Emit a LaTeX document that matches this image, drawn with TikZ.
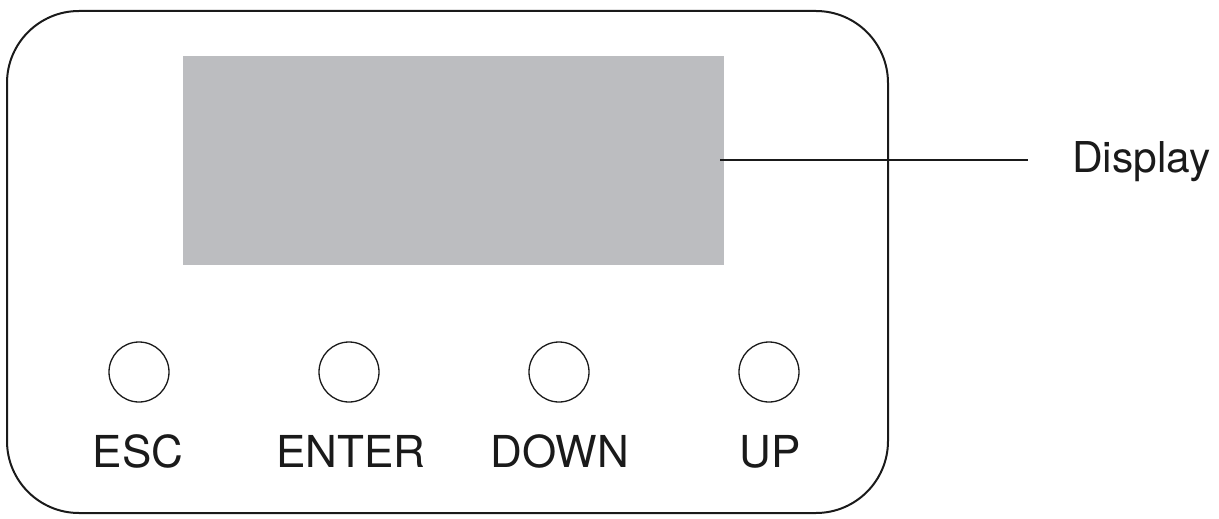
\documentclass[tikz,border=0pt]{standalone}
\usepackage{fontspec}
\setmainfont{TeX Gyre Heros}
\definecolor{lcdgray}{HTML}{BCBDC0}
\definecolor{ink}{HTML}{1A1A1A}
\begin{document}
\begin{tikzpicture}[x=1pt,y=-1pt,
  btn/.style={circle,draw=ink,line width=1.3pt,minimum size=60pt,inner sep=0pt},
  lbl/.style={anchor=base,inner sep=0pt,text=ink,font=\fontsize{44}{50}\selectfont}]
\useasboundingbox (0,0) rectangle (1219,519);
\draw[ink,line width=2pt,rounded corners=72pt] (7,11) rectangle (888,513);
\node[fill=lcdgray,inner sep=0pt,minimum width=541pt,minimum height=209pt,anchor=north west] (disp) at (183,56) {};
\coordinate (lend) at (1028,160);
\node[lbl,anchor=base west,font=\fontsize{42.5}{50}\selectfont] (dlbl) at (1072,172) {Display};
\draw[ink,line width=2.2pt] (720,160) -- (lend);
\foreach \n/\x/\t in {esc/139/ESC,enter/349/ENTER,down/559/DOWN,up/769/UP}{
  \node[btn] (\n) at (\x,372) {};
}
\node[lbl] (tesc) at (138,467) {ESC};
\node[lbl] (tenter) at (351,467) {ENTER};
\node[lbl] (tdown) at (560,467) {DOWN};
\node[lbl] (tup) at (770,467) {UP};
\end{tikzpicture}
\end{document}
